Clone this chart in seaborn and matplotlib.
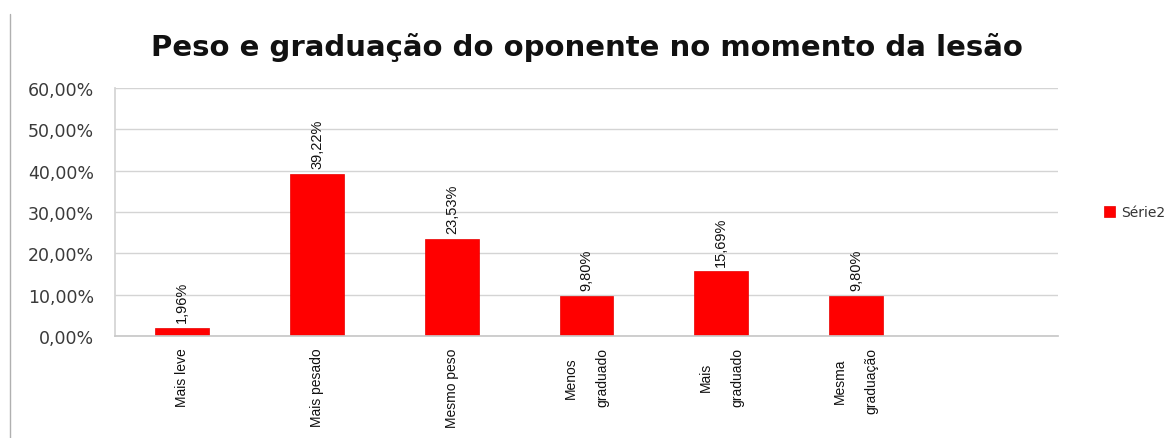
import matplotlib
matplotlib.use("Agg")
import matplotlib.pyplot as plt
from matplotlib.lines import Line2D
import seaborn as sns
import pandas as pd

categories = ["Mais leve", "Mais pesado", "Mesmo peso",
              "Menos\ngraduado", "Mais\ngraduado", "Mesma\ngraduação"]
values = [1.96, 39.22, 23.53, 9.80, 15.69, 9.80]
value_labels = ["1,96%", "39,22%", "23,53%", "9,80%", "15,69%", "9,80%"]
y_ticks = [0, 10, 20, 30, 40, 50, 60]
y_tick_labels = ["0,00%", "10,00%", "20,00%", "30,00%", "40,00%", "50,00%", "60,00%"]
series_name = "Série2"

sns.set_theme(style="white")
plt.rcParams["font.family"] = ["DejaVu Sans"]

df = pd.DataFrame({"categoria": categories, "valor": values, "serie": series_name})

fig = plt.figure(figsize=(11.73, 4.39), dpi=100)
ax = fig.add_axes([0.098, 0.232, 0.804, 0.565])

sns.barplot(data=df, x="categoria", y="valor", hue="serie",
            palette=["#ff0000"], saturation=1, width=0.4, ax=ax, legend=True,
            edgecolor="#e80000", linewidth=0.5)

ax.set_xlim(-0.5, 6.5)
ax.set_ylim(0, 60)
ax.set_yticks(y_ticks)
ax.set_yticklabels(y_tick_labels, fontsize=12.5, color="#3a3a3a")
ax.yaxis.grid(True, color="#d4d4d4", linewidth=1)
ax.set_axisbelow(True)
ax.set_xlabel("")
ax.set_ylabel("")
ax.tick_params(axis="y", length=0, pad=15)
ax.tick_params(axis="x", length=0, pad=8)

ax.set_xticks(range(len(categories)))
ax.set_xticklabels(categories, rotation=90, fontsize=10,
                   family="Liberation Sans", va="top", ha="center",
                   color="#111111", linespacing=2.6)

for sp in ["top", "right"]:
    ax.spines[sp].set_visible(False)
ax.spines["left"].set_color("#d4d4d4")
ax.spines["bottom"].set_color("#c8c8c8")

for i, (v, lab) in enumerate(zip(values, value_labels)):
    ax.annotate(lab, (i, v), xytext=(0, 4), textcoords="offset points",
                rotation=90, ha="center", va="bottom", fontsize=10.5,
                family="Liberation Sans", color="#111111")

ax.legend(loc="center left", bbox_to_anchor=(1.035, 0.5), frameon=False,
          fontsize=10, handlelength=0.8, handleheight=0.8, handletextpad=0.5,
          labelcolor="#333333")

fig.text(0.5, 0.892, "Peso e graduação do oponente no momento da lesão",
         ha="center", va="center", fontsize=21, fontweight="bold",
         color="#111111")

fig.add_artist(Line2D([0.0085, 0.0085], [0.0, 0.966], transform=fig.transFigure,
                      color="#b0b0b0", linewidth=1))

fig.savefig("out.png", dpi=100)
